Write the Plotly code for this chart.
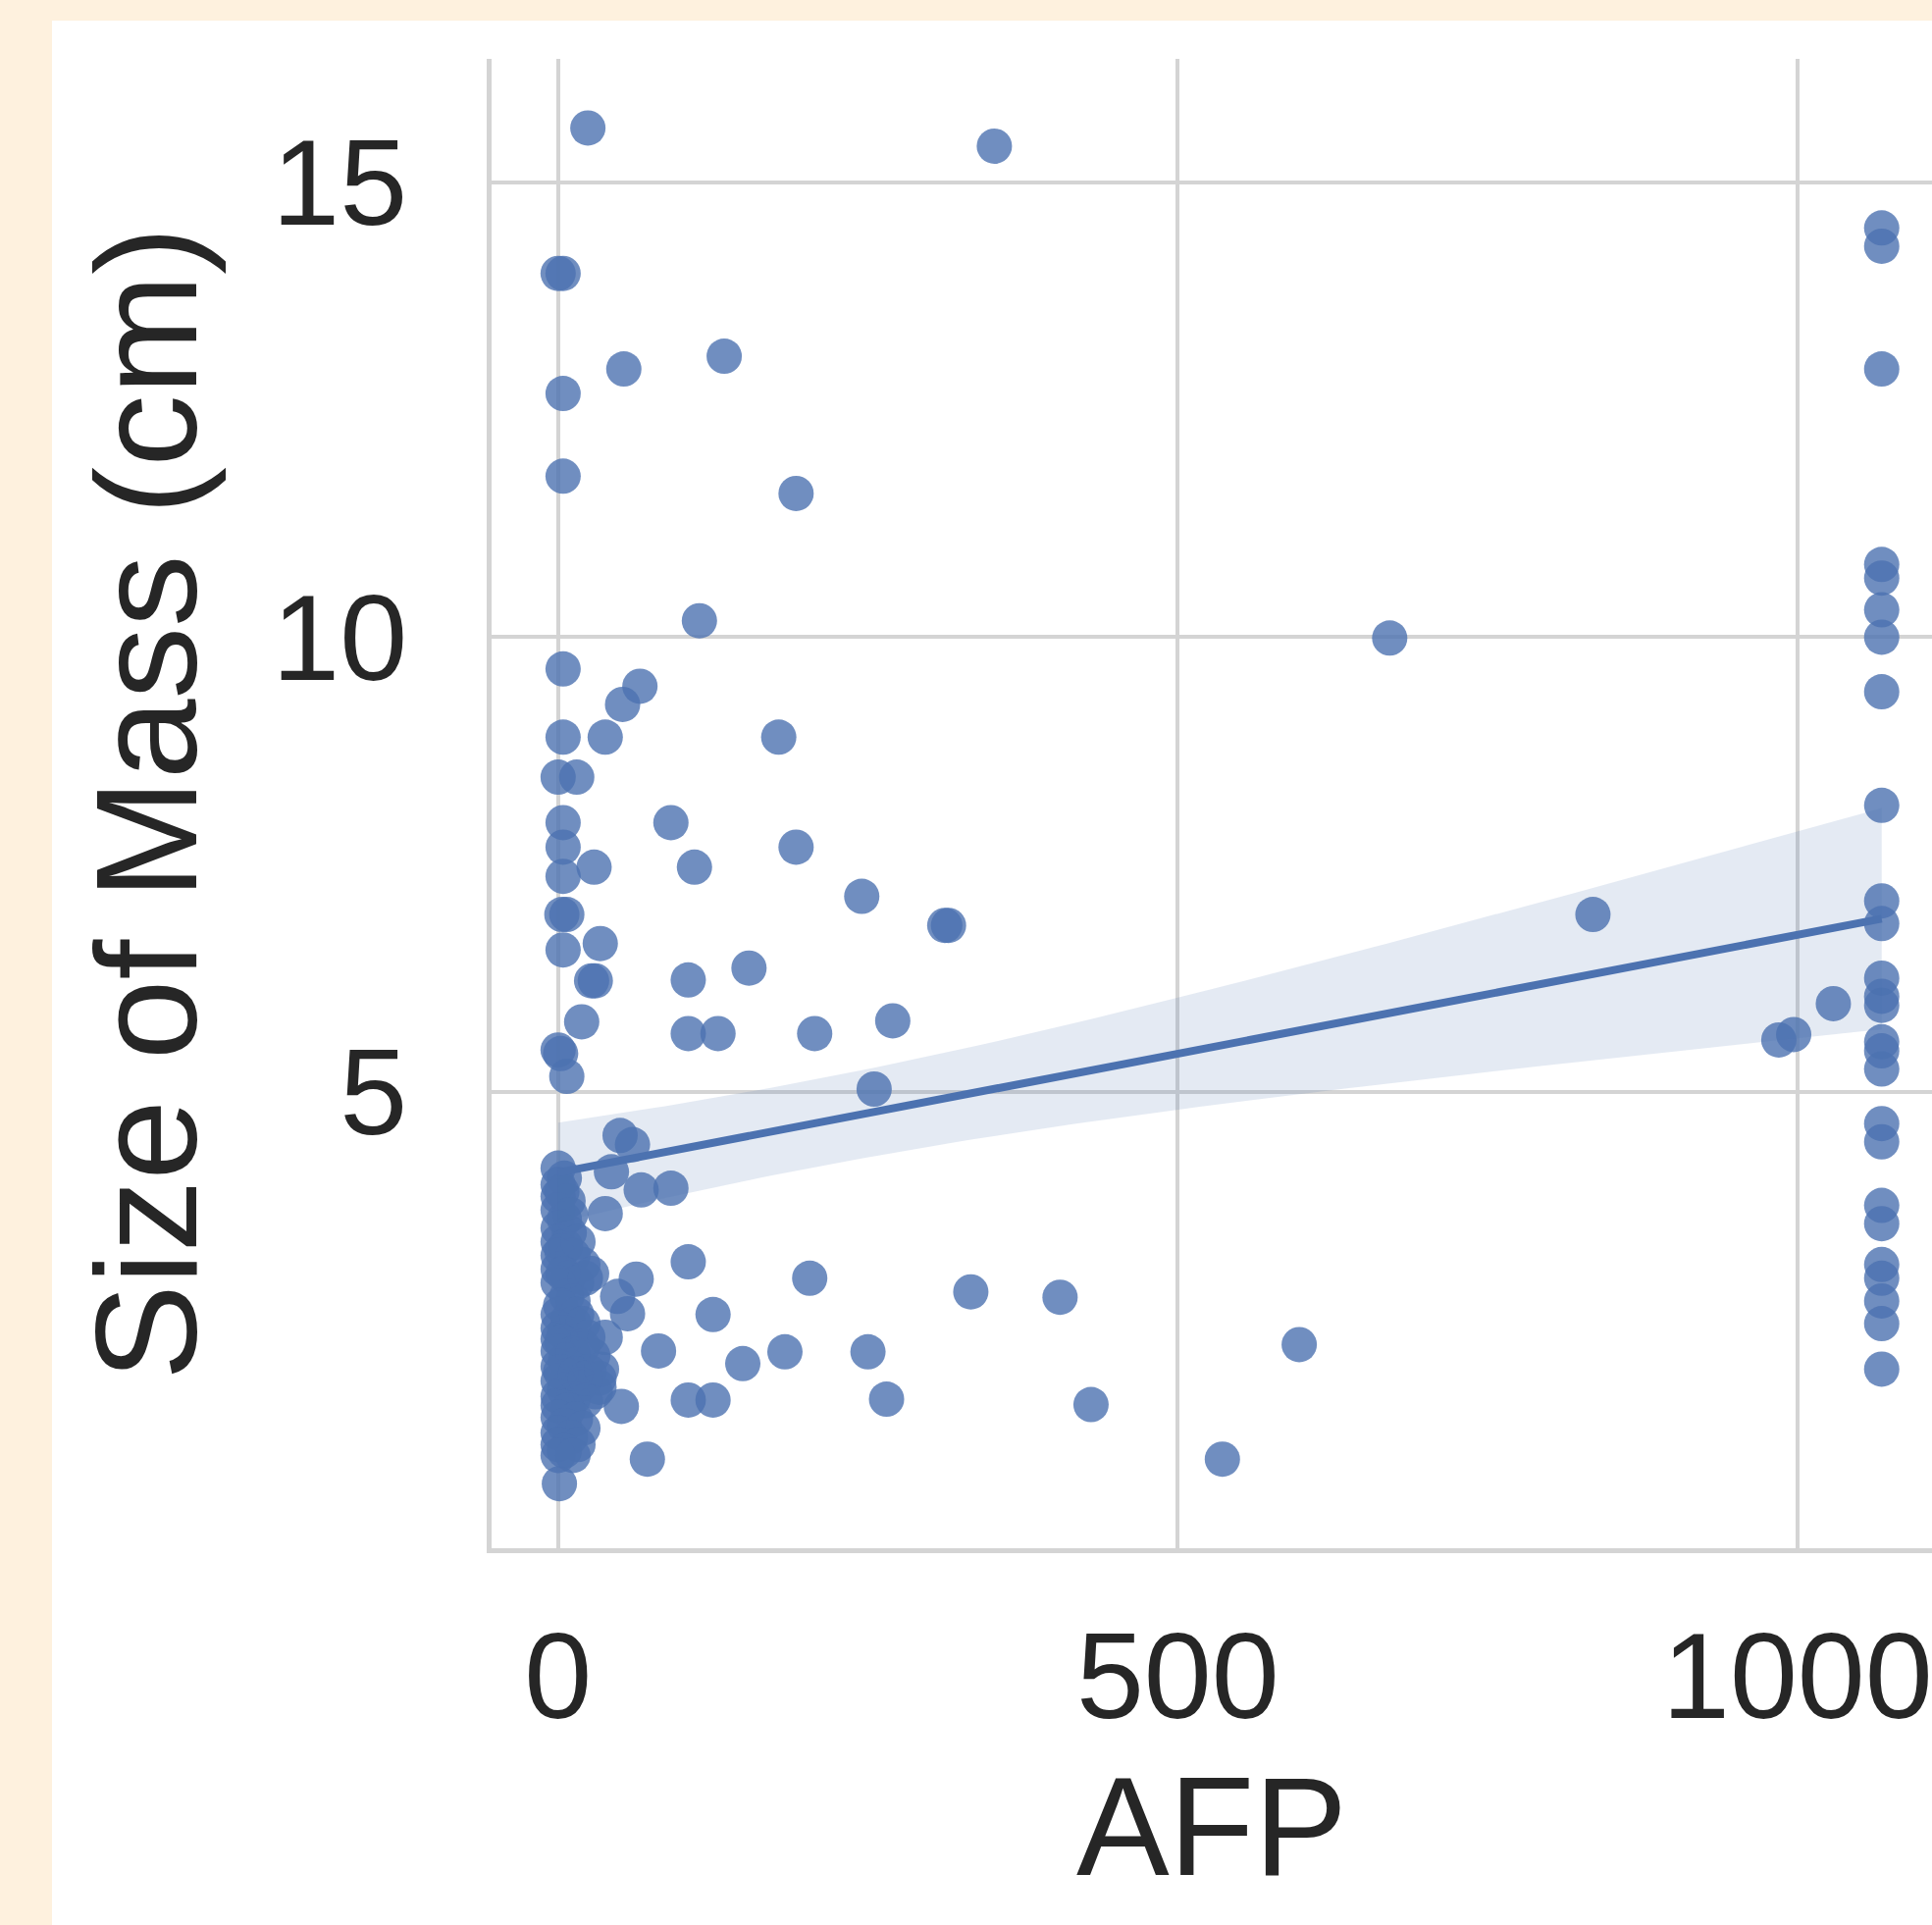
import numpy as np
import plotly.graph_objects as go

# ---------------- data ----------------
# scattered points (AFP, size of mass in cm)
afp_scatter = [24, 352, 0, 4, 53, 134, 4, 4, 192, 114, 671, 4, 66, 52, 4, 38, 178,
               0, 15, 91, 4, 4, 192, 29, 110, 4, 245, 3, 7, 312, 315, 4, 34, 27, 30,
               105, 154, 19, 105, 129, 207, 270, 0, 2, 7, 255,
               50, 60, 43, 67, 91, 38, 105, 203, 333, 405, 598, 430, 536, 835, 985,
               997, 1029, 63, 56, 48, 125, 81, 149, 183, 250, 105, 125, 265, 72, 1, 51, 33]
size_scatter = [15.6, 15.4, 14.0, 14.0, 12.95, 13.09, 12.68, 11.77, 11.58, 10.18, 9.99,
                9.65, 9.46, 9.26, 8.9, 8.9, 8.9, 8.46, 8.46, 7.96, 7.96, 7.69, 7.69, 7.47,
                7.47, 7.37, 7.15, 6.95, 6.95, 6.83, 6.83, 6.56, 6.63, 6.22, 6.22, 6.23,
                6.36, 5.77, 5.64, 5.64, 5.64, 5.78, 5.46, 5.42, 5.17, 5.03,
                4.52, 4.42, 4.12, 3.92, 3.94, 3.66, 3.13, 2.95, 2.80, 2.74, 2.22, 1.56,
                0.96, 6.95, 5.57, 5.63, 5.97, 2.94, 2.56, 2.75, 2.55, 2.15, 2.01, 2.14,
                2.14, 1.61, 1.61, 1.62, 0.96, 0.69, 1.54, 1.75]

# dense cluster of overlapping points with AFP close to 0
afp_cluster = [0, 5, 0, 0, 8, 0, 5, 0, 9, 0, 6,
               0, 12, 20, 0, 27, 8, 15, 0, 7, 12,
               0, 8, 13, 0, 5,
               0, 10, 20, 0, 28, 6, 15, 0, 25, 33, 8, 0, 18, 30, 5, 0, 12, 22, 0, 8,
               0, 14, 5, 20, 0, 10, 0, 16, 5, 0, 12,
               3, 10, 3, 16, 4, 22, 2, 15, 20, 3, 12, 24, 2, 14, 22, 35, 38]
size_cluster = [4.16, 4.05, 3.98, 3.85, 3.8, 3.7, 3.6, 3.5, 3.45, 3.35, 3.3,
                3.2, 3.2, 3.1, 3.05, 3.0, 2.95, 2.9, 2.9, 2.75, 2.7,
                2.55, 2.5, 2.45, 2.4, 2.35,
                2.28, 2.25, 2.2, 2.15, 2.1, 2.05, 2.0, 1.98, 1.92, 1.85, 1.88, 1.82,
                1.78, 1.7, 1.72, 1.65, 1.62, 1.6, 1.55, 1.5,
                1.42, 1.4, 1.33, 1.3, 1.25, 1.2, 1.12, 1.12, 1.05, 1.0, 1.0,
                3.9, 3.65, 3.25, 3.35, 3.0, 2.95, 2.65, 2.55, 2.45, 2.25, 2.12, 2.3,
                1.92, 1.9, 1.85, 1.95, 2.3]

# points at the capped AFP value
afp_capped = 1068
size_capped = [14.5, 14.3, 12.95, 10.8, 10.65, 10.3, 10.0, 9.4, 8.15, 7.1, 6.85,
               6.25, 6.05, 5.95, 5.55, 5.45, 5.25, 4.65, 4.45, 3.75, 3.55, 3.1,
               2.95, 2.7, 2.45, 1.95]

x_ticks = [0, 500, 1000]
y_ticks = [5, 10, 15]
x_title = "AFP"
y_title = "Size of Mass (cm)"

# ---------------- regression (OLS + robust 95% band) ----------------
x = np.array(afp_scatter + afp_cluster + [afp_capped] * len(size_capped), dtype=float)
y = np.array(size_scatter + size_cluster + size_capped, dtype=float)
X = np.column_stack([np.ones_like(x), x])
beta, *_ = np.linalg.lstsq(X, y, rcond=None)
resid = y - X @ beta
xtx_inv = np.linalg.inv(X.T @ X)
meat = X.T @ (X * (resid ** 2)[:, None])
cov = xtx_inv @ meat @ xtx_inv
grid = np.linspace(x.min(), x.max(), 100)
G = np.column_stack([np.ones_like(grid), grid])
yhat = G @ beta
se = np.sqrt(np.sum((G @ cov) * G, axis=1))
lo = yhat - 1.96 * se
hi = yhat + 1.96 * se

# ---------------- styling ----------------
BLUE = "#4C72B0"
W, H = 1969, 1962
L, R, T, B = 501, 0, 60, 384
pw, ph = W - L - R, H - T - B
FONT = "Liberation Sans, Arial, Helvetica, sans-serif"
TXT = "#262626"
GRID = "#d4d4d4"

fig = go.Figure()
fig.add_trace(go.Scatter(x=x, y=y, mode="markers",
                         marker=dict(size=36, color=BLUE, opacity=0.8, line=dict(width=0)),
                         showlegend=False, hoverinfo="skip"))
fig.add_trace(go.Scatter(x=grid, y=hi, mode="lines", line=dict(width=0, color=BLUE),
                         showlegend=False, hoverinfo="skip"))
fig.add_trace(go.Scatter(x=grid, y=lo, mode="lines", line=dict(width=0, color=BLUE),
                         fill="tonexty", fillcolor="rgba(76,114,176,0.15)",
                         showlegend=False, hoverinfo="skip"))
fig.add_trace(go.Scatter(x=grid, y=yhat, mode="lines", line=dict(width=8, color=BLUE),
                         showlegend=False, hoverinfo="skip"))

# white panel over the cream page background
def px_to_paper_x(px):
    return (px - L) / pw

def px_to_paper_y(py):
    return (H - B - py) / ph

fig.add_shape(type="rect", xref="paper", yref="paper", layer="below",
              x0=px_to_paper_x(53), x1=px_to_paper_x(W + 10),
              y0=px_to_paper_y(H + 10), y1=px_to_paper_y(21),
              fillcolor="white", line=dict(width=0))

fig.update_layout(
    width=W, height=H, autosize=False,
    margin=dict(l=L, r=R, t=T, b=B, pad=0),
    paper_bgcolor="#FEF1DE", plot_bgcolor="rgba(0,0,0,0)",
    template="none", showlegend=False,
    font=dict(family=FONT, color=TXT),
)
fig.update_xaxes(range=[-53.7, 1108.6], tickvals=x_ticks, ticktext=[str(v) for v in x_ticks],
                 showgrid=True, gridcolor=GRID, gridwidth=4, zeroline=False,
                 showline=True, linecolor=GRID, linewidth=5, ticks="",
                 ticklabelstandoff=19, ticklabeloverflow="allow", automargin=False,
                 tickfont=dict(size=124, family=FONT, color=TXT),
                 title=dict(text=x_title, font=dict(size=142, family=FONT, color=TXT), standoff=37))
fig.update_yaxes(range=[-0.02, 16.36], tickvals=y_ticks, ticktext=[str(v) for v in y_ticks],
                 showgrid=True, gridcolor=GRID, gridwidth=4, zeroline=False,
                 showline=True, linecolor=GRID, linewidth=5, ticks="",
                 ticklabelstandoff=56, automargin=False,
                 tickfont=dict(size=124, family=FONT, color=TXT),
                 title=dict(text=y_title, font=dict(size=147, family=FONT, color=TXT), standoff=28))

fig.write_html("out.html", config={"displayModeBar": False},
               post_script="document.body.style.margin='0';document.body.style.overflow='hidden';")
